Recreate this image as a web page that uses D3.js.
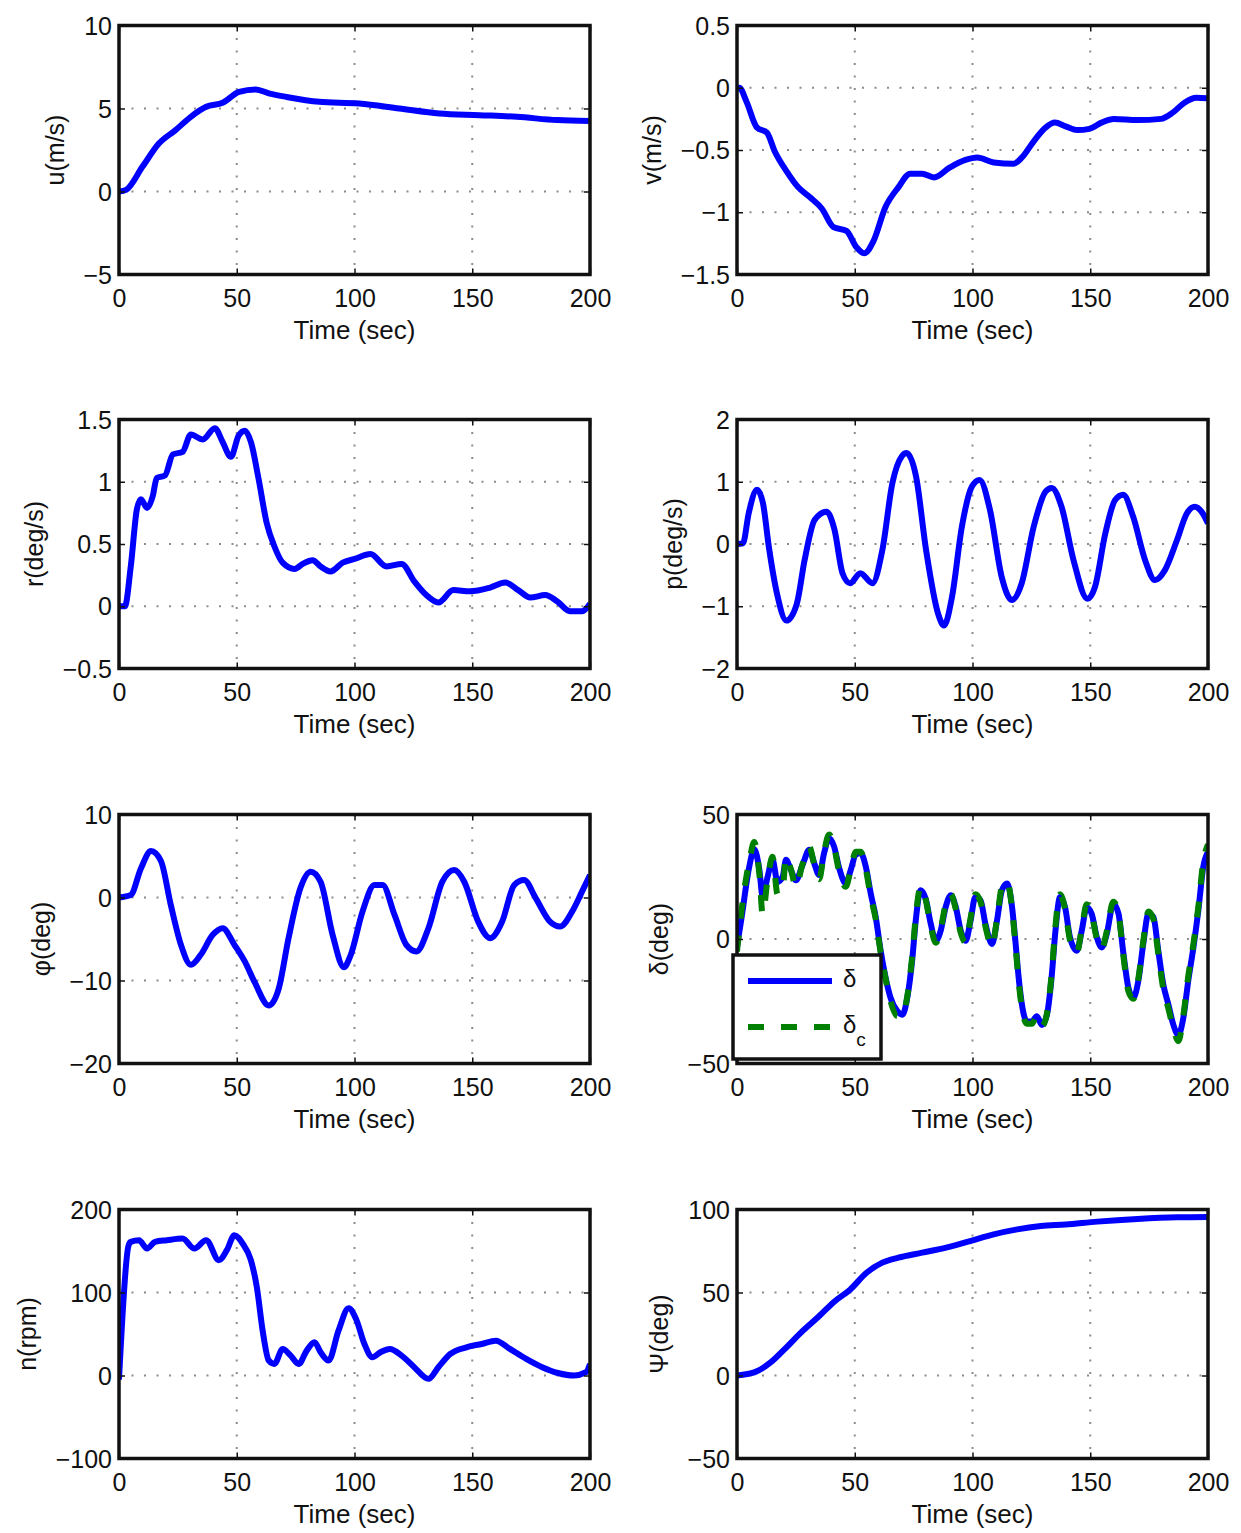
<!DOCTYPE html>
<html>
<head>
<meta charset="utf-8">
<script src="https://cdn.jsdelivr.net/npm/d3@7"></script>
<style>
  body { margin: 0; background: #fff; }
  svg { display: block; font-family: "Liberation Sans", Arial, sans-serif; }
</style>
</head>
<body>
<script>
// ---- data ----
const xTicks = [0, 50, 100, 150, 200];

// u (m/s)
const tU = [0, 3, 10, 17, 24, 30.5, 37, 44, 51, 58, 64, 71, 85, 102, 119, 136, 153, 169, 186, 200];
const uVals = [0, 0.1, 1.5, 2.9, 3.7, 4.5, 5.1, 5.35, 6.0, 6.15, 5.9, 5.7, 5.4, 5.3, 5.0, 4.7, 4.6, 4.5, 4.3, 4.25];

// v (m/s)
const tV = [0, 1, 4, 8.5, 12.7, 16, 21, 26, 31, 36, 41, 46.5, 50.7, 54, 58, 63, 68.5, 73.5, 78.6, 83.7, 90.4, 97, 102, 109, 117.5, 121, 126, 131, 135, 139.5, 144.5, 149.6, 154.7, 160, 170, 180, 185, 190, 195, 200];
const vVals = [0, 0, -0.11, -0.32, -0.36, -0.51, -0.67, -0.8, -0.88, -0.97, -1.12, -1.15, -1.28, -1.33, -1.23, -0.96, -0.8, -0.69, -0.69, -0.72, -0.64, -0.58, -0.56, -0.6, -0.61, -0.56, -0.43, -0.32, -0.28, -0.31, -0.34, -0.33, -0.28, -0.25, -0.26, -0.25, -0.2, -0.12, -0.08, -0.085];

// r (deg/s)
const tR = [0, 2.5, 5, 7.6, 9.3, 11.9, 14.4, 16, 19.5, 22.9, 27, 30.5, 35.6, 40.7, 44, 47.5, 50.8, 53.4, 56, 59.3, 62.7, 66, 69.5, 74.6, 78, 82.2, 85.6, 89.8, 95, 100, 106.8, 113.6, 120, 125.4, 130.5, 135.6, 142, 149, 157.6, 164, 169.5, 174.6, 181, 186, 191.5, 196.6, 200];
const rVals = [0, 0, 0.32, 0.78, 0.86, 0.79, 0.89, 1.03, 1.05, 1.22, 1.24, 1.38, 1.34, 1.43, 1.32, 1.2, 1.37, 1.41, 1.32, 1.02, 0.67, 0.48, 0.35, 0.3, 0.34, 0.37, 0.32, 0.28, 0.35, 0.38, 0.42, 0.32, 0.34, 0.2, 0.09, 0.03, 0.13, 0.12, 0.15, 0.19, 0.13, 0.07, 0.09, 0.04, -0.04, -0.04, 0.02];

// p (deg/s)
const tP = [0, 2.5, 5, 8.5, 11, 13.5, 17, 21, 25.4, 28.7, 33, 38, 41.4, 44.8, 48, 52.4, 57.5, 61.7, 66, 70, 72, 76, 80.3, 85.4, 87.9, 91.3, 95.5, 99.7, 103, 107.4, 112.4, 116.7, 120.9, 126, 131, 133.6, 137.8, 142.9, 148.8, 152, 156.4, 160.6, 164, 168.2, 173.3, 177.5, 181.7, 186.8, 191, 194.4, 197.8, 200];
const pVals = [0, 0.01, 0.5, 0.87, 0.66, -0.04, -0.8, -1.23, -0.96, -0.26, 0.39, 0.52, 0.23, -0.47, -0.63, -0.47, -0.63, -0.1, 0.98, 1.41, 1.46, 1.09, -0.1, -1.12, -1.31, -0.85, 0.28, 0.92, 1.03, 0.55, -0.53, -0.9, -0.63, 0.28, 0.84, 0.9, 0.6, -0.26, -0.88, -0.69, 0.17, 0.71, 0.79, 0.44, -0.26, -0.58, -0.42, 0.06, 0.49, 0.6, 0.49, 0.33];

// phi (deg)
const tPhi = [0, 5, 9.3, 13.6, 17.8, 22, 26.3, 30.5, 34.7, 39.8, 44, 49, 53.4, 57.6, 63.6, 67.8, 72, 77, 81.4, 85.6, 90.7, 95.5, 98.3, 103.4, 108.5, 111.9, 117, 122, 126.3, 131.4, 137.3, 142.4, 146.6, 152.5, 157.6, 162.7, 167.8, 172, 177, 183, 187.3, 192.4, 196.6, 200];
const phiVals = [0, 0.3, 3.5, 5.6, 4.4, -0.9, -5.7, -8.1, -6.9, -4.5, -3.7, -5.7, -7.7, -10.2, -13, -11, -4.9, 1.1, 3.1, 1.9, -4.5, -8.4, -7.0, -1.7, 1.5, 1.5, -2.1, -5.7, -6.5, -3.7, 1.9, 3.3, 1.9, -2.9, -4.9, -2.9, 1.5, 2.1, -0.1, -2.9, -3.5, -1.7, 0.7, 2.7];

// delta and delta_c (deg)
const tD = [0, 2.4, 3.8, 5.2, 7.3, 9.5, 10.9, 13, 15.1, 17.2, 19.4, 20.8, 22.9, 25, 27.8, 30.7, 32.8, 34.9, 37, 39.1, 41.2, 43.4, 46.2, 48.3, 50.4, 52.5, 54.7, 56.8, 58.9, 61, 63.1, 65.2, 68.1, 70.2, 72.3, 74.5, 75.9, 78, 80.1, 82.3, 84.4, 86.5, 88.6, 90.8, 92.9, 95, 97.1, 99.1, 101.2, 103.4, 105.5, 108.3, 110.4, 112.5, 114.7, 116.8, 118.2, 119.6, 121, 123.1, 125.2, 127.3, 129.5, 131.6, 133.7, 135.1, 137.2, 139.3, 141.4, 144.3, 146.4, 148.5, 150.6, 152.8, 154.9, 157, 159.8, 162, 164.1, 166.2, 168.3, 170.4, 172.5, 174.7, 176.8, 178.9, 181, 183.2, 185.3, 187.4, 189.5, 191.6, 193.8, 195.9, 198, 200];
const deltaVals = [-3, 11.5, 21, 29, 36, 27.7, 17, 25, 31.8, 23, 25, 31.8, 27.7, 23.6, 29.7, 35.8, 30.4, 25.7, 34.5, 40.5, 37.2, 28.4, 22.3, 27.7, 33.8, 34.5, 29, 18.2, 8.8, -4.7, -15.5, -23.6, -29, -30.4, -23.6, -7.4, 7.4, 19.6, 16.2, 6, -0.7, 3.4, 12.8, 17.6, 12.8, 3.4, -0.7, 7, 16.9, 15.5, 6, -2, 7.4, 19.6, 22.3, 12.8, -0.7, -15.5, -26.4, -33.1, -33.1, -31, -34.5, -30.4, -14.2, 2, 16.9, 12.8, 0.7, -4.7, 3.4, 12.8, 10.1, 0.7, -3.4, 2, 14.2, 10.1, -6, -19.6, -23.6, -16.9, -2, 10.1, 8.8, -4.7, -18.2, -26.4, -34.5, -38.5, -31.8, -16.9, -3.4, 11.5, 29, 35];
const deltaCVals = [-5, 15, 24, 31, 39, 26, 10, 24, 33, 18, 20, 33, 28, 21, 30, 37, 30, 24, 35, 42, 37, 27, 21, 28, 35, 35, 28, 17, 8, -5.5, -16, -25, -31, -31, -23, -6, 9, 21, 16, 5, -1.5, 4, 14, 18, 12, 2.5, -1.5, 8, 18, 15, 5, -3, 8, 21, 23, 12, -2, -17, -28, -34, -34, -31, -35, -30, -13, 4, 18, 12, -0.5, -5.5, 4, 14, 10, 0, -4, 3, 15, 10, -7, -21, -24, -16, -1, 11, 8, -6, -20, -28, -36, -41, -31, -15, -2, 13, 31, 38];

// n (rpm)
const tN = [0, 4, 5, 8.5, 11.9, 15.3, 20.3, 27, 32, 37, 42.4, 45.8, 49, 52.5, 56, 58.5, 61, 63.6, 66, 69.5, 72.9, 76.3, 79.7, 83, 85.6, 89, 93.2, 97.5, 100.8, 104.2, 107.6, 111, 115, 120, 125.4, 131.4, 135.6, 140.7, 147.5, 154, 160, 166, 172.9, 179.7, 186.4, 193.2, 198.3, 200];
const nVals = [-5, 156, 161, 163, 153, 161, 163, 165, 153, 163, 139, 151, 169, 159, 139, 107, 54, 18, 14, 32, 24, 14, 30, 40, 28, 18, 54, 81, 67, 38, 22, 28, 32, 24, 10, -4, 10, 26, 34, 38, 42, 32, 20, 10, 3, 0, 4, 14];

// psi (deg)
const tPsi = [0, 7.6, 14.4, 21, 28, 34.7, 41.4, 48, 55, 61.7, 68.5, 78.6, 88.8, 99, 109, 119, 129, 139.5, 153, 170, 186.8, 200];
const psiVals = [0, 2, 8, 17, 27, 35.5, 44.6, 51.7, 61.9, 68, 71, 74, 77, 81, 85, 88, 90, 91, 92.7, 94.3, 95.3, 95.5];

const yLabels = ["u(m/s)", "v(m/s)", "r(deg/s)", "p(deg/s)", "\u03C6(deg)", "\u03B4(deg)", "n(rpm)", "\u03A8(deg)"];
const yDomains = [[-5, 10], [-1.5, 0.5], [-0.5, 1.5], [-2, 2], [-20, 10], [-50, 50], [-100, 200], [-50, 100]];
const yTickSets = [
  [-5, 0, 5, 10],
  [-1.5, -1, -0.5, 0, 0.5],
  [-0.5, 0, 0.5, 1, 1.5],
  [-2, -1, 0, 1, 2],
  [-20, -10, 0, 10],
  [-50, 0, 50],
  [-100, 0, 100, 200],
  [-50, 0, 50, 100]
];
const legendLabels = ["\u03B4", "\u03B4"];

// ---- layout ----
const W = 1241, H = 1533;
const colLeft = [119, 737];
const rowTop = [25.5, 419.5, 814.5, 1209.5];
const pw = 471, ph = 249;
const BLUE = "#0000ff", GREEN = "#008000";
const FONT = 25;

const seriesByPanel = [
  [{ t: tU, v: uVals, color: BLUE }],
  [{ t: tV, v: vVals, color: BLUE }],
  [{ t: tR, v: rVals, color: BLUE }],
  [{ t: tP, v: pVals, color: BLUE }],
  [{ t: tPhi, v: phiVals, color: BLUE }],
  [{ t: tD, v: deltaVals, color: BLUE }, { t: tD, v: deltaCVals, color: GREEN, dash: "16,17" }],
  [{ t: tN, v: nVals, color: BLUE }],
  [{ t: tPsi, v: psiVals, color: BLUE }]
];

const svg = d3.select("body").append("svg")
  .attr("width", W)
  .attr("height", H)
  .attr("viewBox", [0, 0, W, H]);

const defs = svg.append("defs");

yLabels.forEach((label, i) => {
  const left = colLeft[i % 2];
  const top = rowTop[Math.floor(i / 2)];
  const g = svg.append("g").attr("transform", `translate(${left},${top})`);

  const x = d3.scaleLinear().domain([0, 200]).range([0, pw]);
  const y = d3.scaleLinear().domain(yDomains[i]).range([ph, 0]);
  const yTicks = yTickSets[i];

  // dotted grid
  g.append("g").selectAll("line.vg")
    .data(xTicks.filter(d => d > 0 && d < 200))
    .join("line")
    .attr("x1", d => x(d)).attr("x2", d => x(d))
    .attr("y1", 0).attr("y2", ph)
    .attr("stroke", "#8c8c8c").attr("stroke-width", 2)
    .attr("stroke-dasharray", "2,10.5");
  const yd = yDomains[i];
  g.append("g").selectAll("line.hg")
    .data(yTicks.filter(d => d > yd[0] && d < yd[1]))
    .join("line")
    .attr("x1", 0).attr("x2", pw)
    .attr("y1", d => y(d)).attr("y2", d => y(d))
    .attr("stroke", "#8c8c8c").attr("stroke-width", 2)
    .attr("stroke-dasharray", "2,10.5");

  // data lines
  const clipId = "clip" + i;
  defs.append("clipPath").attr("id", clipId)
    .append("rect").attr("width", pw).attr("height", ph);

  const line = d3.line()
    .x(d => x(d[0]))
    .y(d => y(d[1]))
    .curve(d3.curveMonotoneX);

  seriesByPanel[i].forEach(s => {
    g.append("path")
      .attr("clip-path", `url(#${clipId})`)
      .attr("d", line(d3.zip(s.t, s.v)))
      .attr("fill", "none")
      .attr("stroke", s.color)
      .attr("stroke-width", 6)
      .attr("stroke-linejoin", "round")
      .attr("stroke-dasharray", s.dash || null);
  });

  // axes (ticks inward, matlab style)
  const xAxis = g.append("g")
    .attr("transform", `translate(0,${ph})`)
    .call(d3.axisBottom(x).tickValues(xTicks).tickSize(-6).tickPadding(15).tickFormat(d3.format("d")));
  g.append("g")
    .call(d3.axisTop(x).tickValues(xTicks).tickSize(-6).tickFormat(""));
  const yAxis = g.append("g")
    .call(d3.axisLeft(y).tickValues(yTicks).tickSize(-6).tickPadding(7).tickFormat(d => String(d).replace("-", "\u2212")));
  g.append("g")
    .attr("transform", `translate(${pw},0)`)
    .call(d3.axisRight(y).tickValues(yTicks).tickSize(-6).tickFormat(""));

  g.selectAll(".domain").remove();
  g.selectAll(".tick line").attr("stroke", "#111").attr("stroke-width", 1.5);
  [xAxis, yAxis].forEach(a => a.selectAll("text")
    .attr("font-family", "'Liberation Sans', Arial, sans-serif")
    .attr("font-size", FONT)
    .attr("fill", "#111"));
  yAxis.selectAll("text").attr("dy", "0.34em");

  // frame
  g.append("rect")
    .attr("width", pw).attr("height", ph)
    .attr("fill", "none")
    .attr("stroke", "#111")
    .attr("stroke-width", 3.5);

  // x label
  g.append("text")
    .attr("x", pw / 2)
    .attr("y", ph + 64)
    .attr("text-anchor", "middle")
    .attr("font-size", FONT + 1)
    .attr("fill", "#111")
    .text("Time (sec)");

  // y label, placed left of the widest tick label
  const tickLeft = d3.min(yAxis.selectAll("text").nodes(), n => -7 - n.getComputedTextLength());
  g.append("text")
    .attr("transform", `translate(${tickLeft - 28},${ph / 2}) rotate(-90)`)
    .attr("dy", "0.35em")
    .attr("text-anchor", "middle")
    .attr("font-size", FONT)
    .attr("fill", "#111")
    .text(label);

  // legend for delta panel
  if (i === 5) {
    const lg = g.append("g").attr("transform", "translate(-4,140.5)");
    lg.append("rect")
      .attr("width", 148).attr("height", 104)
      .attr("fill", "#fff")
      .attr("stroke", "#111").attr("stroke-width", 3.5);
    const entries = seriesByPanel[i];
    entries.forEach((s, k) => {
      const ly = 26 + k * 46;
      lg.append("line")
        .attr("x1", 15).attr("x2", 99)
        .attr("y1", ly).attr("y2", ly)
        .attr("stroke", s.color).attr("stroke-width", 6)
        .attr("stroke-dasharray", s.dash || null);
      const t = lg.append("text")
        .attr("x", 110).attr("y", ly + 6)
        .attr("font-size", 24)
        .attr("fill", "#111")
        .text(legendLabels[k]);
      if (k === 1) {
        t.append("tspan").attr("dy", 13).attr("font-size", 19).text("c");
      }
    });
  }
});
</script>
</body>
</html>
